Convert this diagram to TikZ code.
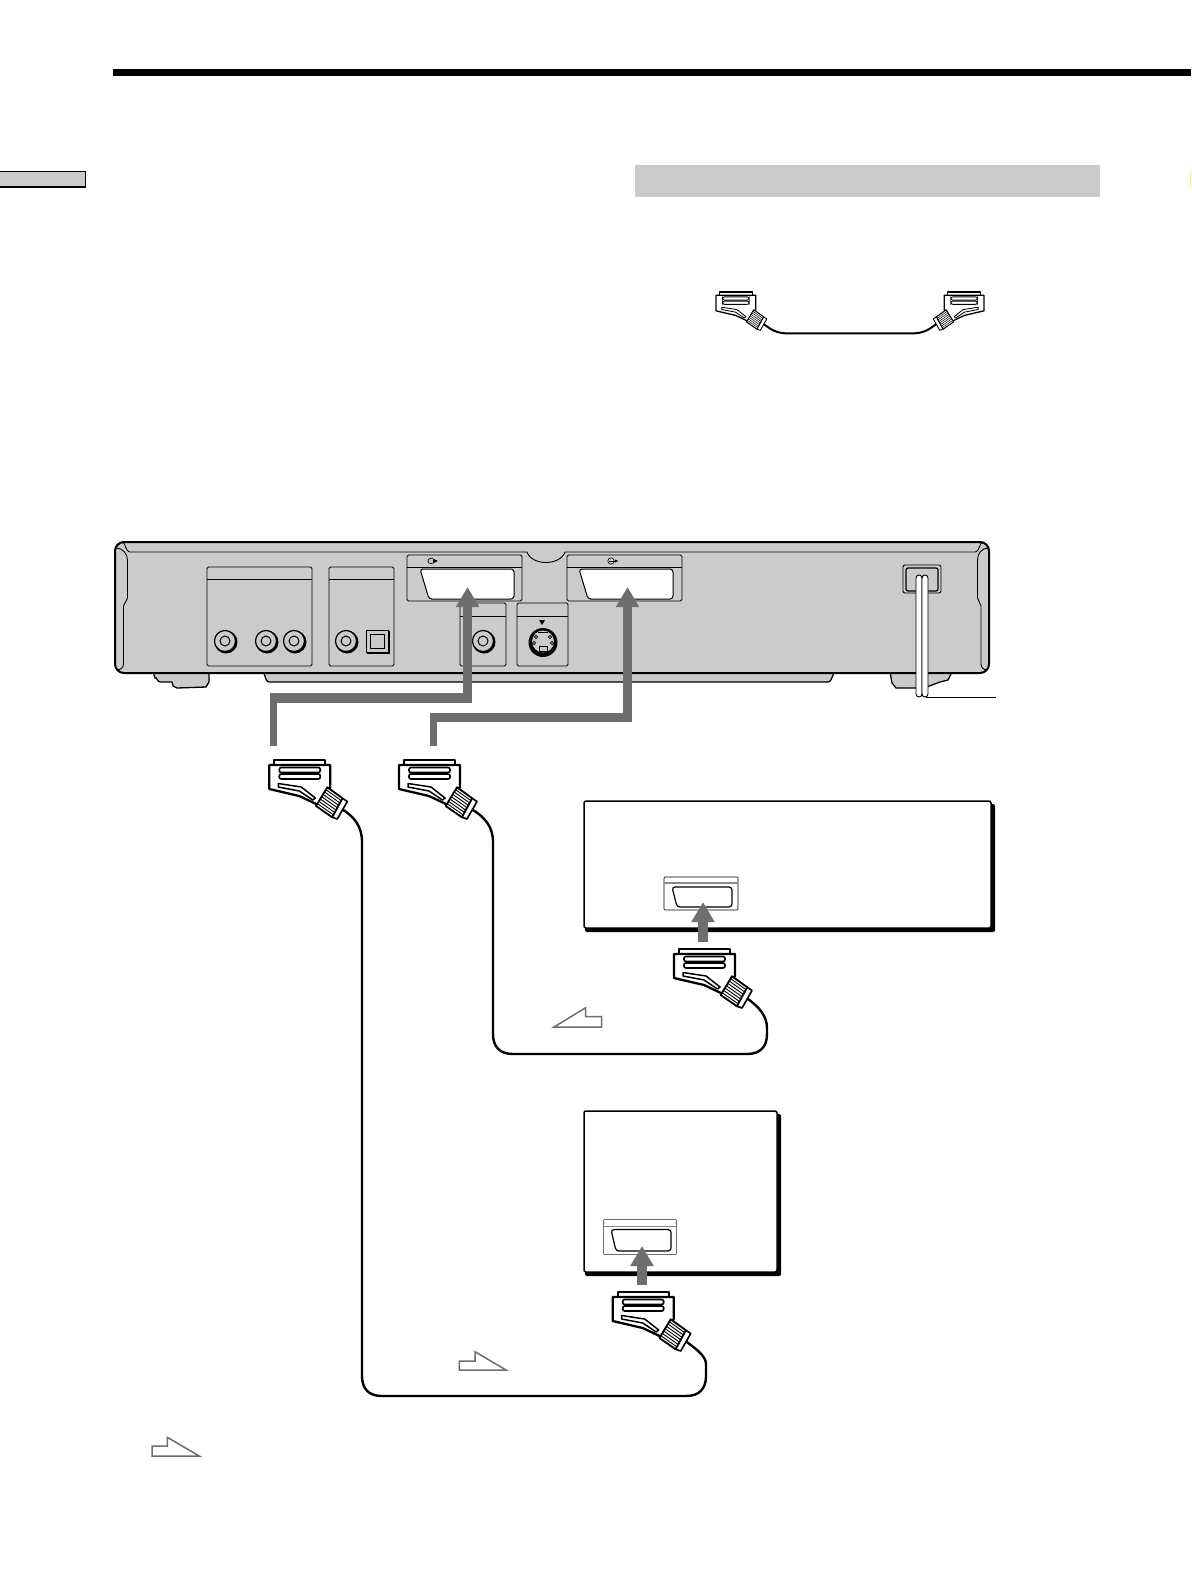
\documentclass[tikz,border=0pt]{standalone}
\usetikzlibrary{arrows.meta,calc}
\definecolor{panelgrey}{HTML}{CBCBCB}
\definecolor{flowgrey}{HTML}{6E6E6E}
\definecolor{edgeyellow}{HTML}{FFF27A}
\tikzset{
  bodyline/.style={draw=black,line width=2pt,fill=panelgrey,line join=round},
  thinline/.style={draw=black,line width=0.9pt,line join=round},
  panelbox/.style={draw=black,line width=0.9pt,rounded corners=1.5pt},
  cableline/.style={draw=black,line width=2.4pt,line join=round,line cap=round},
  flowmain/.style={draw=flowgrey,line width=9.5pt,line join=miter,-{Triangle[width=22pt,length=20pt]}},
  flowstub/.style={draw=flowgrey,line width=7pt},
  stepglyph/.style={draw=flowgrey,line width=1.5pt,fill=white,line join=miter},
}
\newcommand{\scartplug}[3]{%
 \begin{scope}[#1]
  \filldraw[fill=white,draw=black,line width=#3pt,line join=round] (0,6)--(0,0)--(51,0)--(51,6);
  \filldraw[fill=white,draw=black,line width=#3pt,line join=round] (-5,5)--(56,5)--(56,27)--(44,45)--(25,36)--(-5,29)--cycle;
  \draw[black,line width=.7*#3pt,rounded corners=2pt] (5,7.5) rectangle (46,12.5);
  \draw[black,line width=.7*#3pt,rounded corners=2pt] (5,14) rectangle (46,19);
  \draw[black,line width=.65*#3pt,line join=round] (4,23.5)--(27,27)--(41,38)--(38.5,40)--(25,31)--(4,27)--cycle;
  \filldraw[fill=white,draw=black,line width=.8*#3pt,line join=round] (53,27.3)--(68.3,38.3)--(58,57.3)--(41.7,46)--cycle;
  \foreach \t in {0.125,0.25,...,0.9}{
    \draw[black,line width=.4*#3pt] ($(53,27.3)!\t!(41.7,46)$)--($(68.3,38.3)!\t!(58,57.3)$);
  }
  \filldraw[fill=white,draw=black,line width=.7*#3pt,line join=round] (68.3,38.3)--(73,41.5)--(63,59)--(58,57.3)--cycle;
  \coordinate (#2) at (69,50);
 \end{scope}}
\newcommand{\jackhole}[2]{%
  \fill[black] (#1+1,#2+1) circle (11.5);
  \filldraw[fill=panelgrey,draw=black,line width=1.2pt] (#1,#2) circle (10.5);
  \draw[black,line width=1pt] (#1,#2) circle (5);}
\newcommand{\scartcut}[2]{%
  \filldraw[fill=white,draw=black,line width=1pt,rounded corners=3pt]
   (#1,#2)--(#1+94,#2)--(#1+94,#2+30)--(#1+9,#2+30)--cycle;}
\begin{document}
\begin{tikzpicture}[x=1pt,y=-1pt]
\useasboundingbox (0,0) rectangle (1191,1589);
\fill[white] (0,0) rectangle (1191,1589);

% page furniture
\fill[black] (113,69) rectangle (1191,76);
\filldraw[fill=panelgrey,draw=black,line width=1.2pt] (-2,171.7) rectangle (85.3,187);
\fill[panelgrey] (635,165) rectangle (1100,197);
\draw[edgeyellow,line width=.8pt] (1190.6,170) -- (1190.6,186);

% legend cable
\scartplug{shift={(719.3,292)},scale=.65}{legL}{1.3}
\scartplug{shift={(980.7,292)},xscale=-.65,yscale=.65}{legR}{1.3}
\draw[cableline,rounded corners=8pt,line width=2pt] (legL) -- (777,333.3) -- (923,333.3) -- (legR);

% rear of the player: feet and strip
\filldraw[bodyline,line width=1.3pt] (153,672)--(155,678) to[out=70,in=180] (160,682)--(172,682)--(173,686)--(177,688)--(206,687)--(209,682)--(209,672)--cycle;
\filldraw[bodyline,line width=1.3pt] (263,672) to[out=80,in=180] (269,682)--(828,682) to[out=0,in=100] (835,672)--cycle;
\filldraw[bodyline,line width=1.3pt] (890,672)--(892,683)--(896,688)--(924,688)--(940,682)--(948,680)--(952,672)--cycle;

% main body
\path[bodyline,rounded corners=9pt] (115,542) rectangle (989,673);
\draw[thinline] (122,543) to[out=60,in=180] (130,552)--(527,552) .. controls (532,566) and (560,566) .. (565,552)--(975,552) to[out=0,in=120] (983,543);
\draw[thinline] (116,548) to[out=0,in=90] (127.5,560)--(127.5,598)--(123.5,606)--(123.5,664) to[out=-90,in=0] (117,670);
\draw[thinline] (988,548) to[out=180,in=90] (977.5,560)--(977.5,598)--(981,606)--(981,664) to[out=-90,in=180] (987,670);

% panels
\draw[panelbox] (207,567) rectangle (312,666);
\draw[thinline] (207,579)--(312,579);
\draw[panelbox] (329,567) rectangle (394,666);
\draw[thinline] (329,579)--(394,579);
\draw[panelbox] (460,603) rectangle (506,666);
\draw[thinline] (460,616)--(506,616);
\draw[panelbox] (517,603) rectangle (568,666);
\draw[thinline] (517,616)--(568,616);
\draw[panelbox] (407,555) rectangle (522,601);
\draw[thinline] (407,567)--(522,567);
\draw[panelbox] (567,555) rectangle (682,601);
\draw[thinline] (567,567)--(682,567);
\scartcut{420}{569}
\scartcut{579}{569}
% output marks
\draw[black,line width=.7pt] (433,558.3) -- (431,558.3) .. controls (427,558.3) and (427,563.7) .. (431,563.7) -- (433,563.7);
\fill[black] (433,558.7) -- (438,561) -- (433,563.3) -- cycle;
\draw[black,line width=.6pt] (611,561) circle (3.2);
\draw[black,line width=.6pt] (609,561) -- (616,561);
\fill[black] (615,559.5) -- (618,561) -- (615,562.5) -- cycle;

% jacks
\jackhole{225}{641}
\jackhole{266}{641}
\jackhole{294}{641}
\jackhole{346}{641}
\jackhole{483}{641}
\fill[black] (367,631) rectangle (390,654);
\filldraw[fill=panelgrey,draw=black,line width=1pt] (366,630) rectangle (388,652);
\draw[black,line width=.7pt] (370,634) rectangle (384,648);
\fill[black] (543,642.5) circle (14.5);
\filldraw[fill=panelgrey,draw=black,line width=.8pt] (543,641.5) circle (11.5);
\foreach \px/\py in {536/637,550/637,534/643,552/643}{\draw[black,line width=.6pt] (\px,\py) circle (1.6);}
\draw[black,line width=.7pt] (539,646) rectangle (547,651);
\draw[black,line width=.6pt] (538,632)--(548,632);
\fill[black] (539,620) -- (545,620) -- (542,625) -- cycle;

% mains lead
\draw[thinline,rounded corners=2pt] (903,565) rectangle (941,593);
\draw[thinline,line width=1.2pt,rounded corners=2pt] (906,568) rectangle (938,591);
\filldraw[fill=white,draw=black,line width=.9pt,rounded corners=3pt] (916,697)--(916,575)--(922,575)--(922,697)--cycle;
\filldraw[fill=white,draw=black,line width=.9pt,rounded corners=3pt] (922,697)--(922,575)--(928,575)--(928,697)--cycle;
\coordinate (mainsEnd) at (996,697);
\draw[black,line width=.9pt] (926,697) -- (mainsEnd);

% recorder boxes
\fill[black,rounded corners=2pt] (585,804) rectangle (995,932);
\filldraw[fill=white,draw=black,line width=1.5pt,rounded corners=2pt] (584,801) rectangle (991,928);
\filldraw[fill=white,draw=black,line width=.7pt,rounded corners=1pt] (664,877) rectangle (738,910);
\draw[flowgrey!80,line width=1.2pt] (664,883)--(738,883);
\filldraw[fill=white,draw=black,line width=1.2pt,rounded corners=3pt] (672,887)--(732,887)--(732,907)--(677,907)--cycle;

\fill[black,rounded corners=2pt] (585,1114) rectangle (781,1276);
\filldraw[fill=white,draw=black,line width=1.5pt,rounded corners=2pt] (584,1111) rectangle (777,1272);
\filldraw[fill=white,draw=flowgrey,line width=.8pt,rounded corners=1pt] (603.5,1219.5) rectangle (676.5,1254.5);
\draw[flowgrey!80,line width=1.2pt] (603.5,1226.7)--(676.5,1226.7);
\filldraw[fill=white,draw=black,line width=1.2pt,rounded corners=3pt] (611,1229.5)--(671,1229.5)--(671,1251)--(616,1251)--cycle;

% flow arrows
\coordinate (s1) at (273.5,746);
\coordinate (e1) at (273.5,698);
\coordinate (t1) at (467.5,587);
\coordinate (s2) at (433.5,746);
\coordinate (e2) at (433.5,717.5);
\coordinate (t2) at (627.5,587);
\coordinate (s3) at (703,942);
\coordinate (t3) at (703,902);
\coordinate (s4) at (642,1285);
\coordinate (t4) at (642,1246);
\draw[flowstub] (s1) -- ($(e1)+(0,-4.7)$);
\draw[flowstub] (s2) -- ($(e2)+(0,-4.7)$);
\draw[flowmain] (e1) -| (t1);
\draw[flowmain] (e2) -| (t2);
\draw[flowmain] (s3) -- (t3);
\draw[flowmain] (s4) -- (t4);

% plugs
\scartplug{shift={(274.3,760)}}{p1}{2.3}
\scartplug{shift={(404,760)}}{p2}{2.3}
\scartplug{shift={(679,949)}}{p3}{2.3}
\scartplug{shift={(617.7,1292)}}{p4}{2.3}

% cables
\draw[cableline] (p1) .. controls (354,817) and (362,826) .. (362,842) -- (362,1376)
  .. controls (362,1389) and (369,1396) .. (382,1396) -- (686,1396)
  .. controls (699,1396) and (706,1389) .. (706,1376) -- (706,1364)
  .. controls (706,1357) and (698,1350) .. (p4);
\draw[cableline] (p2) .. controls (484,817) and (493,826) .. (493,842) -- (493,1034)
  .. controls (493,1047) and (500,1054) .. (513,1054) -- (747,1054)
  .. controls (760,1054) and (767,1047) .. (767,1034) -- (767,1028)
  .. controls (767,1016) and (759,1007) .. (p3);

% analogue signal marks
\draw[stepglyph] (554,1027)--(601.7,1027)--(601.7,1016.7)--(585.7,1016.7)--(585.7,1007.7)--cycle;
\draw[stepglyph] (459.3,1361)--(475,1361)--(475,1351.7)--(506,1370)--(459.3,1370)--cycle;
\draw[stepglyph] (152,1446)--(167.3,1446)--(167.3,1437.3)--(199.3,1456)--(152,1456)--cycle;
\end{tikzpicture}
\end{document}
